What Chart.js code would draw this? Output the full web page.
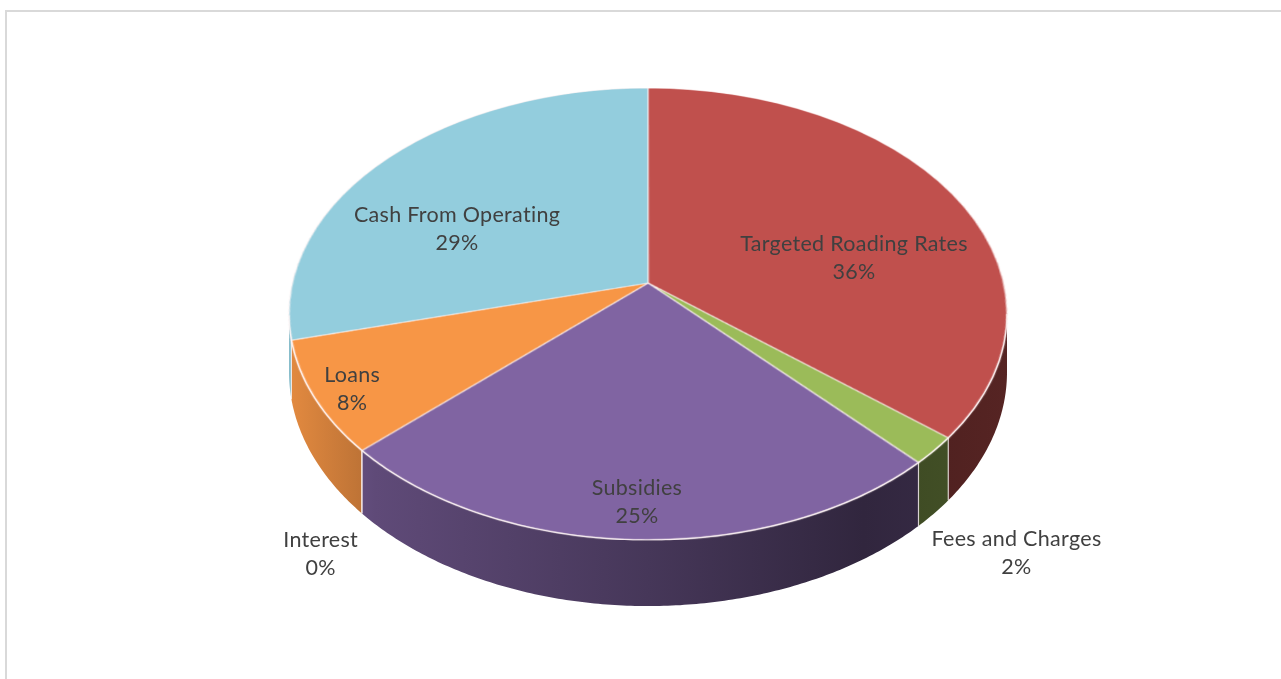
<!DOCTYPE html>
<html>
<head>
<meta charset="utf-8">
<title>Funding Sources</title>
<script src="https://cdn.jsdelivr.net/npm/chart.js@4.4.1/dist/chart.umd.min.js"></script>
<style>
    body { margin: 0; background: #fff; }
    .frame { position: absolute; left: 5px; top: 10px; width: 1300px; height: 700px; border: 2px solid #d9d9d9; }
    #fundingChart { position: absolute; left: 0; top: 0; }
</style>
</head>
<body>
<div class="frame"></div>
<canvas id="fundingChart" width="1281" height="679"></canvas>
<script>
// 资金来源
const categories = ['Targeted Roading Rates', 'Fees and Charges', 'Subsidies', 'Interest', 'Loans', 'Cash From Operating'];
const shares = [36, 2, 25, 0, 8, 29];
const sliceColors = ['#C0504D', '#9BBB59', '#8064A2', '#4BACC6', '#F79646', '#93CDDD'];

// 标签位置微调: [角度偏移(度), 半径比例]
const labelNudge = [[14, 0.6], [6.4, 1.37], [0, 0.87], [-9.8, 1.31], [-1, 0.9], [-13.4, 0.61]];

// 透视参数（屏幕像素）
const view = { cx: 648, top: 88, apex: 283, front: 540, halfWidth: 359, depth: 57 };

// y(v) = (a*v + b) / (1 + c*v)，v = -1 为后缘, v = 1 为前缘
const pb = view.apex;
const pc = (2 * pb - view.front - view.top) / (view.front - view.top);
const pa = view.front * (1 + pc) - pb;
const pk = view.halfWidth * Math.sqrt(1 - pc * pc);

function projY(v) { return (pa * v + pb) / (1 + pc * v); }
function scaleAt(v) { return pk / (1 + pc * v); }
function invY(y) { return (y - pb) / (pa - pc * y); }
function project(u, v) { return [view.cx + u * scaleAt(v), projY(v)]; }
function wallDepth(v) { return view.depth * scaleAt(v) / pk; }

function hexRgb(hex) {
    const n = parseInt(hex.slice(1), 16);
    return [(n >> 16) & 255, (n >> 8) & 255, n & 255];
}
function shade(hex, f) {
    const c = hexRgb(hex).map(x => Math.round(x * f));
    return `rgb(${c[0]}, ${c[1]}, ${c[2]})`;
}

// 侧面可见范围（轮廓切点之间）
const wallFrom = Math.asin(-pc);
const wallTo = Math.PI - wallFrom;

function drawWalls(ctx, arcs) {
    const stops = [[0, 0.92], [0.12, 0.74], [0.5, 0.55], [0.8, 0.38], [1, 0.45]];
    arcs.forEach((arc, i) => {
        [-2 * Math.PI, 0, 2 * Math.PI].forEach(shift => {
            const a0 = Math.max(arc.startAngle + shift, wallFrom);
            const a1 = Math.min(arc.endAngle + shift, wallTo);
            if (a1 <= a0) return;
            const steps = Math.max(2, Math.ceil((a1 - a0) / 0.01));
            ctx.beginPath();
            for (let s = 0; s <= steps; s++) {
                const t = a0 + (a1 - a0) * s / steps;
                const p = project(Math.cos(t), Math.sin(t));
                s === 0 ? ctx.moveTo(p[0], p[1]) : ctx.lineTo(p[0], p[1]);
            }
            for (let s = steps; s >= 0; s--) {
                const t = a0 + (a1 - a0) * s / steps;
                const p = project(Math.cos(t), Math.sin(t));
                ctx.lineTo(p[0], p[1] + wallDepth(Math.sin(t)));
            }
            ctx.closePath();
            const g = ctx.createLinearGradient(view.cx - view.halfWidth, 0, view.cx + view.halfWidth, 0);
            stops.forEach(st => g.addColorStop(st[0], shade(sliceColors[i], st[1])));
            ctx.fillStyle = g;
            ctx.fill();
        });
    });
}

function drawEdges(ctx, arcs) {
    ctx.save();
    ctx.strokeStyle = 'rgba(255, 245, 245, 0.75)';
    ctx.lineWidth = 1.2;
    // 前缘高光
    ctx.beginPath();
    for (let t = wallFrom; t <= wallTo; t += 0.01) {
        const p = project(Math.cos(t), Math.sin(t));
        t === wallFrom ? ctx.moveTo(p[0], p[1]) : ctx.lineTo(p[0], p[1]);
    }
    ctx.stroke();
    // 侧面分隔线
    arcs.forEach(arc => {
        let t = arc.startAngle;
        if (t < 0) t += 2 * Math.PI;
        if (t <= wallFrom || t >= wallTo) return;
        const p = project(Math.cos(t), Math.sin(t));
        ctx.beginPath();
        ctx.moveTo(p[0], p[1]);
        ctx.lineTo(p[0], p[1] + wallDepth(Math.sin(t)));
        ctx.stroke();
    });
    ctx.restore();
}

// 将平面饼图变换为带透视的立体饼图
const tiltPlugin = {
    id: 'tilt',
    afterDatasetsDraw(chart) {
        const ctx = chart.ctx;
        const arcs = chart.getDatasetMeta(0).data;
        const r = arcs[0].outerRadius;
        const dpr = chart.currentDevicePixelRatio || 1;
        const pad = 3;
        const size = Math.ceil(2 * (r + pad));
        const left = arcs[0].x - r - pad;
        const top = arcs[0].y - r - pad;

        const flat = document.createElement('canvas');
        flat.width = size * dpr;
        flat.height = size * dpr;
        flat.getContext('2d').drawImage(chart.canvas, left * dpr, top * dpr, size * dpr, size * dpr, 0, 0, size * dpr, size * dpr);
        ctx.clearRect(left, top, size, size);

        drawWalls(ctx, arcs);

        ctx.save();
        ctx.imageSmoothingEnabled = true;
        for (let y = Math.floor(view.top) - 1; y <= Math.ceil(view.front) + 1; y++) {
            let v0 = invY(y), v1 = invY(y + 1);
            if (v1 <= -1 || v0 >= 1) continue;
            v0 = Math.max(v0, -1);
            v1 = Math.min(v1, 1);
            const s = scaleAt((v0 + v1) / 2) / r;
            const sy = (r + pad + v0 * r) * dpr;
            const sh = Math.max((v1 - v0) * r * dpr, 0.05);
            ctx.drawImage(flat, 0, sy, size * dpr, sh, view.cx - (r + pad) * s, y, size * s, 1);
        }
        ctx.restore();

        drawEdges(ctx, arcs);
    },
    afterDraw(chart) {
        const ctx = chart.ctx;
        const arcs = chart.getDatasetMeta(0).data;
        ctx.save();
        ctx.font = '21.5px Lato';
        ctx.letterSpacing = '0.3px';
        ctx.fillStyle = '#404040';
        ctx.textAlign = 'center';
        ctx.textBaseline = 'middle';
        arcs.forEach((arc, i) => {
            const mid = (arc.startAngle + arc.endAngle) / 2 + labelNudge[i][0] * Math.PI / 180;
            const rf = labelNudge[i][1];
            const p = project(rf * Math.cos(mid), rf * Math.sin(mid));
            ctx.fillText(categories[i], p[0], p[1] - 14);
            ctx.fillText(shares[i] + '%', p[0], p[1] + 14);
        });
        ctx.restore();
    }
};

const fundingChart = new Chart(document.getElementById('fundingChart').getContext('2d'), {
    type: 'pie',
    data: {
        labels: categories,
        datasets: [{
            data: shares,
            backgroundColor: sliceColors,
            borderColor: 'rgba(255, 245, 245, 0.9)',
            borderWidth: 1.2
        }]
    },
    options: {
        responsive: false,
        animation: false,
        events: [],
        layout: { padding: 10 },
        plugins: {
            legend: { display: false },
            tooltip: { enabled: false }
        }
    },
    plugins: [tiltPlugin]
});
</script>
</body>
</html>
